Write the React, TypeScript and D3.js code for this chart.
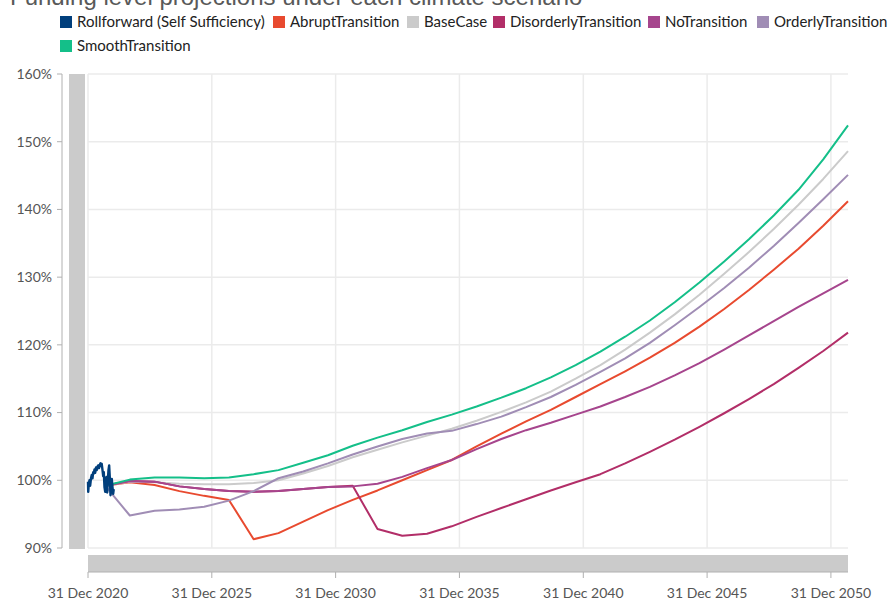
import React from "react";
import * as d3 from "d3";

const title = "Funding level projections under each climate scenario";

const seriesNames = [
  "Rollforward (Self Sufficiency)",
  "AbruptTransition",
  "BaseCase",
  "DisorderlyTransition",
  "NoTransition",
  "OrderlyTransition",
  "SmoothTransition",
];
const seriesColors = ["#013f7c", "#e84a2f", "#cbcbcb", "#b22e68", "#a6458d", "#a08db5", "#14bf89"];

const rollforwardDates = [
  "2020-12-31", "2021-01-03", "2021-01-12", "2021-01-22", "2021-02-01", "2021-02-13",
  "2021-02-25", "2021-03-07", "2021-03-18", "2021-03-26", "2021-04-06", "2021-04-16",
  "2021-04-28", "2021-05-10", "2021-05-20", "2021-05-30", "2021-06-11", "2021-06-23",
  "2021-07-03", "2021-07-14", "2021-07-22", "2021-08-02", "2021-08-12", "2021-08-21",
  "2021-08-31", "2021-09-11", "2021-09-19", "2021-09-30", "2021-10-10", "2021-10-19",
  "2021-10-29", "2021-11-08", "2021-11-17", "2021-11-28", "2021-12-08", "2021-12-17",
  "2021-12-27", "2022-01-06", "2022-01-15",
];
const rollforwardValues = [
  99.8, 98.3, 99.5, 100.0, 99.2, 100.3,
  100.8, 100.3, 101.2, 101.0, 101.6, 101.1,
  101.9, 101.5, 102.0, 102.2, 101.8, 102.3,
  102.5, 102.1, 102.4, 101.5, 100.6, 101.2,
  99.0, 98.3, 99.5, 100.5, 98.2, 99.8,
  101.5, 102.2, 100.5, 97.8, 99.0, 100.2,
  99.0, 98.0, 98.7,
];

// Yearly projection points, starting at this date
const projectionStart = "2021-09-09";
const abruptValues = [
  99.2, 99.7, 99.3, 98.4, 97.7, 97.1, 91.3, 92.2, 93.9, 95.6, 97.1, 98.5, 100.0, 101.5, 103.0,
  105.0, 106.9, 108.7, 110.4, 112.3, 114.2, 116.1, 118.1, 120.3, 122.7, 125.3, 128.1, 131.1,
  134.2, 137.6, 141.2,
];
const baseCaseValues = [
  99.2, 99.8, 99.7, 99.5, 99.4, 99.4, 99.6, 100.0, 101.0, 102.1, 103.4, 104.5, 105.6, 106.6,
  107.6, 108.8, 110.1, 111.5, 113.1, 115.0, 117.0, 119.3, 121.8, 124.5, 127.4, 130.5, 133.7,
  137.1, 140.7, 144.5, 148.6,
];
const disorderlyValues = [
  99.2, 99.9, 99.8, 99.1, 98.7, 98.4, 98.3, 98.4, 98.7, 99.0, 99.2, 92.8, 91.8, 92.1, 93.2,
  94.6, 95.9, 97.2, 98.5, 99.7, 100.9, 102.5, 104.2, 106.0, 107.9, 109.9, 112.0, 114.2, 116.6,
  119.1, 121.8,
];
const noTransitionValues = [
  99.2, 99.9, 99.8, 99.1, 98.7, 98.4, 98.3, 98.4, 98.7, 99.0, 99.1, 99.5, 100.5, 101.8, 103.0,
  104.6, 106.1, 107.4, 108.5, 109.7, 110.9, 112.3, 113.8, 115.5, 117.3, 119.3, 121.4, 123.5,
  125.6, 127.6, 129.6,
];
const orderlyValues = [
  99.2, 94.8, 95.5, 95.7, 96.1, 97.0, 98.4, 100.3, 101.3, 102.5, 103.8, 105.0, 106.1, 106.9,
  107.3, 108.3, 109.4, 110.8, 112.3, 114.1, 116.0, 118.0, 120.3, 122.9, 125.6, 128.4, 131.4,
  134.6, 138.0, 141.5, 145.1,
];
const smoothValues = [
  99.2, 100.1, 100.4, 100.4, 100.3, 100.4, 100.9, 101.5, 102.6, 103.7, 105.1, 106.3, 107.4,
  108.6, 109.7, 110.9, 112.2, 113.6, 115.2, 117.0, 119.0, 121.2, 123.6, 126.3, 129.2, 132.3,
  135.6, 139.1, 142.9, 147.4, 152.4,
];

const yTicks = [90, 100, 110, 120, 130, 140, 150, 160];
const xTickDates = ["2020-12-31", "2025-12-31", "2030-12-31", "2035-12-31", "2040-12-31", "2045-12-31", "2050-12-31"];
const xTickLabels = ["31 Dec 2020", "31 Dec 2025", "31 Dec 2030", "31 Dec 2035", "31 Dec 2040", "31 Dec 2045", "31 Dec 2050"];
const xDomain = ["2020-12-31", "2051-09-09"];
const yDomain = [90, 160];

const W = 889;
const H = 600;
const plot = { left: 88, right: 848, top: 74, bottom: 548 };
const legendPos = [
  [60, 22], [273, 22], [407, 22], [493, 22], [648, 22], [757, 22], [60, 46],
];
const FONT = "'Segoe UI', Lato, 'Noto Sans', sans-serif";

export default function App() {
  const parse = d3.timeParse("%Y-%m-%d");
  const x = d3
    .scaleTime()
    .domain(xDomain.map((d) => parse(d) as Date))
    .range([plot.left, plot.right]);
  const y = d3.scaleLinear().domain(yDomain).range([plot.bottom, plot.top]);

  const start = parse(projectionStart) as Date;
  const proj = (vals: number[]) =>
    vals.map((v, i) => ({ date: d3.timeYear.offset(start, i), value: v }));

  const projections = [
    { name: seriesNames[1], color: seriesColors[1], data: proj(abruptValues) },
    { name: seriesNames[2], color: seriesColors[2], data: proj(baseCaseValues) },
    { name: seriesNames[3], color: seriesColors[3], data: proj(disorderlyValues) },
    { name: seriesNames[4], color: seriesColors[4], data: proj(noTransitionValues) },
    { name: seriesNames[5], color: seriesColors[5], data: proj(orderlyValues) },
    { name: seriesNames[6], color: seriesColors[6], data: proj(smoothValues) },
  ];
  const roll = rollforwardDates.map((d, i) => ({ date: parse(d) as Date, value: rollforwardValues[i] }));

  const line = d3
    .line<{ date: Date; value: number }>()
    .x((d) => x(d.date))
    .y((d) => y(d.value));

  const pct = (v: number) => `${v}%`;

  return (
    <div style={{ position: "absolute", left: 0, top: 0 }}>
      <svg width={W} height={H} style={{ display: "block", background: "#fff" }}>
        <text x={10} y={5} fontFamily="'Liberation Sans', Arial, sans-serif" fontSize={24} fill="#595959">
          {title}
        </text>

        {/* Legend */}
        {seriesNames.map((n, i) => (
          <g key={n} transform={`translate(${legendPos[i][0]},${legendPos[i][1]})`}>
            <rect x={0} y={-6} width={12} height={12} fill={seriesColors[i]} />
            <text x={17} y={5} fontFamily={FONT} fontSize={15} fill="#222">
              {n}
            </text>
          </g>
        ))}

        {/* Grid */}
        {yTicks.map((t) => (
          <line key={"gy" + t} x1={plot.left} x2={plot.right} y1={y(t)} y2={y(t)} stroke="#ebebeb" strokeWidth={1.5} />
        ))}
        {xTickDates.map((d) => {
          const xx = x(parse(d) as Date);
          return <line key={"gx" + d} x1={xx} x2={xx} y1={plot.top} y2={plot.bottom} stroke="#ebebeb" strokeWidth={1.5} />;
        })}

        {/* Y axis */}
        <line x1={62} x2={62} y1={plot.top} y2={plot.bottom} stroke="#b0b0b0" strokeWidth={1} />
        {yTicks.map((t) => (
          <g key={"ty" + t}>
            <line x1={57} x2={62} y1={y(t)} y2={y(t)} stroke="#b0b0b0" />
            <text x={52} y={y(t)} dy="0.35em" textAnchor="end" fontFamily={FONT} fontSize={14} fill="#555">
              {pct(t)}
            </text>
          </g>
        ))}
        {/* vertical scrollbar */}
        <rect x={69} y={plot.top} width={16} height={plot.bottom - plot.top + 1} fill="#cbcbcb" />

        {/* horizontal scrollbar + x axis */}
        <rect x={plot.left} y={555} width={plot.right - plot.left} height={17} fill="#cbcbcb" />
        <line x1={plot.left} x2={plot.right} y1={572} y2={572} stroke="#b0b0b0" />
        {xTickDates.map((d, i) => {
          const xx = x(parse(d) as Date);
          return (
            <g key={"tx" + d}>
              <line x1={xx} x2={xx} y1={572} y2={578} stroke="#b0b0b0" />
              <text x={xx} y={598} textAnchor="middle" fontFamily={FONT} fontSize={14} fill="#555">
                {xTickLabels[i]}
              </text>
            </g>
          );
        })}

        {/* Series */}
        {projections.map((s) => (
          <path key={s.name} d={line(s.data) || ""} fill="none" stroke={s.color} strokeWidth={2} strokeLinejoin="round" />
        ))}
        <path d={line(roll) || ""} fill="none" stroke={seriesColors[0]} strokeWidth={2.4} strokeLinejoin="round" />
      </svg>
    </div>
  );
}
